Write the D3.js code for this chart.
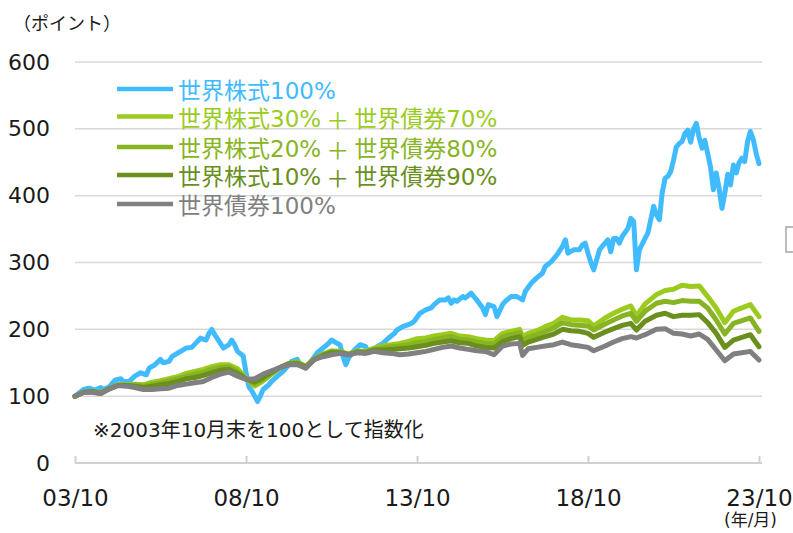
<!DOCTYPE html>
<html lang="ja">
<head>
<meta charset="UTF-8">
<title>世界株式・世界債券の推移</title>
<script src="https://d3js.org/d3.v7.min.js"></script>
<style>
  body { margin: 0; background: #fff; }
  svg { display: block; font-family: "DejaVu Sans", "Noto Sans CJK JP", sans-serif; }
</style>
</head>
<body>
<svg id="chart" width="793" height="533"></svg>
<script>
// months since 2003/10 and index values (2003/10 = 100)
const stockMonth = [0,3,5,7,9,10,12,14,16,17,19,21,23,25,26,28,30,31,33,34,37,39,41,43,44,46,47,48,49,51,52,54,55,56,57,59,60,61,62,63,64,65,66,68,69,71,73,74,76,78,79,81,82,84,85,87,89,90,92,93,94,95,96,98,100,102,103,105,106,108,110,112,113,115,117,118,119,121,123,125,126,128,130,131,132,133,134,136,137,139,140,141,143,144,145,147,148,150,151,153,155,157,158,160,162,164,165,167,169,171,172,173,175,177,178,179,180,181,182,184,185,187,188,189,190,191,192,194,195,196,197,198,200,201,202,203,204,205,206,207,208,209,210,211,212,213,214,215,216,217,218,219,220,221,222,223,224,225,226,227,228,229,230,231,232,233,234,235,236,237,238,239,240];
const stock100 = [100,110,112,109,113,110,114,124,126,122,122,130,135,132,142,147,155,150,152,159,167,172,173,182,187,184,194,200,192,179,172,177,184,177,167,160,135,114,108,100,92,100,110,117,122,130,137,142,152,155,147,142,147,159,165,172,179,184,179,177,160,147,157,169,177,174,165,169,174,179,187,194,199,204,207,209,212,224,229,232,237,244,244,247,239,244,242,249,247,254,249,244,232,222,237,234,219,237,242,249,249,244,257,269,277,284,294,301,311,324,334,314,319,319,326,329,314,300,289,319,324,334,316,336,336,329,339,351,366,361,289,319,336,344,364,384,371,364,404,426,429,436,453,473,478,481,493,498,480,500,508,486,471,483,463,443,409,434,411,381,404,432,416,446,434,449,456,451,481,496,484,463,448];

const mixMonth = [0,3,6,9,12,15,18,21,24,27,30,33,36,39,42,45,48,51,54,57,60,63,66,69,72,75,78,81,84,87,90,93,96,99,102,105,108,111,114,117,120,123,126,129,132,135,138,141,144,147,150,153,156,157,159,162,165,168,171,174,177,180,182,186,189,192,195,197,200,204,207,210,213,216,219,222,225,228,231,234,237,240];
const mix30 = [100,106,107,105,111,117,117,118,117,121,123,126,129,134,137,140,144,147,147,141,127,115,123,133,143,149,151,145,156,163,168,167,163,168,167,172,175,177,179,182,186,187,190,192,194,190,189,186,184,183,194,197,200,189,194,198,204,209,218,214,214,213,205,217,224,230,235,220,238,252,258,260,266,264,265,249,232,210,227,232,237,219];
const mix20 = [100,106,107,105,111,117,116,117,115,118,120,123,126,130,133,136,140,143,144,137,126,118,125,134,143,149,150,144,156,162,167,166,163,167,166,170,172,174,175,177,180,182,185,187,189,185,184,181,179,178,189,192,195,183,188,192,197,202,210,207,206,205,199,208,214,220,224,212,227,239,242,240,243,242,242,232,214,193,209,213,217,197];
const mix10 = [100,106,107,104,111,116,116,115,113,115,117,119,122,126,128,131,135,139,140,134,126,121,128,136,143,148,149,143,155,161,165,165,162,166,165,169,169,170,171,172,174,176,179,181,183,180,179,175,173,172,182,186,189,176,181,185,189,193,200,198,197,194,188,196,201,206,209,199,212,221,224,219,221,221,222,210,194,173,184,188,192,174];
const bond100 = [100,106,106,104,111,116,115,113,110,110,111,112,116,118,120,122,128,133,136,130,125,126,133,138,143,147,147,142,155,159,162,164,162,165,164,167,165,164,162,163,165,167,170,173,175,172,170,168,167,162,175,178,179,161,171,173,175,177,181,177,175,173,168,175,181,186,189,187,192,200,201,194,193,190,193,185,169,153,163,165,167,154];

const yTicks = [0, 100, 200, 300, 400, 500, 600];
const xTickMonths = [0, 60, 120, 180, 240];

const seriesNames = ["世界株式100%", "世界株式30%＋世界債券70%", "世界株式20%＋世界債券80%", "世界株式10%＋世界債券90%", "世界債券100%"];
const seriesColors = ["#41bbff", "#9bcb1f", "#88b424", "#6a8f1c", "#808080"];

const start = new Date(2003, 9, 1);
const toDate = m => d3.timeMonth.offset(start, m);

const series = [
  { months: stockMonth, values: stock100 },
  { months: mixMonth, values: mix30 },
  { months: mixMonth, values: mix20 },
  { months: mixMonth, values: mix10 },
  { months: mixMonth, values: bond100 }
];

const margin = { top: 62, left: 75 };
const width = 684, height = 401;

const svg = d3.select("#chart");
const g = svg.append("g").attr("transform", `translate(${margin.left},${margin.top})`);

const x = d3.scaleTime().domain([toDate(0), toDate(240)]).range([0, width]);
const y = d3.scaleLinear().domain([0, 600]).range([height, 0]);

// grid lines
g.selectAll(".grid").data(yTicks).enter().append("line")
  .attr("x1", 0).attr("x2", width + 3)
  .attr("y1", d => y(d)).attr("y2", d => y(d))
  .attr("stroke", d => d === 0 ? "#d0d0d0" : "#d9d9d9")
  .attr("stroke-width", d => d === 0 ? 2 : 1.5);

// y axis labels
g.append("g")
  .call(d3.axisLeft(y).tickValues(yTicks).tickSize(0).tickPadding(25))
  .call(a => a.select(".domain").remove())
  .selectAll("text")
  .attr("font-size", 22).attr("fill", "#1a1a1a")
  .attr("font-family", "DejaVu Sans, sans-serif");

// x axis (ticks pointing up)
g.append("g")
  .attr("transform", `translate(0,${height})`)
  .call(d3.axisBottom(x).tickValues(xTickMonths.map(toDate))
    .tickFormat(d3.timeFormat("%y/%m")).tickSizeInner(-7).tickSizeOuter(0).tickPadding(27))
  .call(a => a.select(".domain").remove())
  .call(a => a.selectAll("line").attr("stroke", "#d0d0d0").attr("stroke-width", 2))
  .selectAll("text")
  .attr("font-size", 23).attr("fill", "#1a1a1a")
  .attr("font-family", "DejaVu Sans, sans-serif");

// lines
const line = d3.line()
  .x(d => x(toDate(d[0])))
  .y(d => y(d[1]));

series.forEach((s, i) => {
  g.append("path")
    .datum(s.months.map((m, j) => [m, s.values[j]]))
    .attr("fill", "none")
    .attr("stroke", seriesColors[i])
    .attr("stroke-width", 5)
    .attr("stroke-linejoin", "round")
    .attr("stroke-linecap", "round")
    .attr("d", line);
});

// legend
const legendY = [89, 116.5, 147, 175, 204];
seriesNames.forEach((name, i) => {
  svg.append("line")
    .attr("x1", 117).attr("x2", 173)
    .attr("y1", legendY[i]).attr("y2", legendY[i])
    .attr("stroke", seriesColors[i]).attr("stroke-width", 4.5);
  const t = svg.append("text")
    .attr("x", 178).attr("y", legendY[i] + 2)
    .attr("dominant-baseline", "central")
    .attr("font-size", 23)
    .attr("fill", seriesColors[i]);
  // full-width plus with a little room on both sides
  name.split(/(＋)/).forEach((part, k) => {
    const sp = t.append("tspan").text(part);
    if (k > 0) sp.attr("dx", 5);
    if (part === "＋") sp.attr("font-family", "Noto Sans CJK JP, sans-serif");
  });
});

// unit labels and note
svg.append("text").attr("x", 13).attr("y", 22).attr("dominant-baseline", "central")
  .attr("font-size", 18).attr("fill", "#1a1a1a")
  .attr("font-family", "Noto Sans CJK JP, sans-serif")
  .text("（ポイント）");

svg.append("text").attr("x", 724).attr("y", 520).attr("dominant-baseline", "central")
  .attr("font-size", 17).attr("fill", "#1a1a1a")
  .text("(年/月)");

svg.append("text").attr("x", 93).attr("y", 430).attr("dominant-baseline", "central")
  .attr("font-size", 20).attr("fill", "#1a1a1a")
  .text("※2003年10月末を100として指数化");

// partial box at the right edge
svg.append("rect").attr("x", 786).attr("y", 227).attr("width", 20).attr("height", 25)
  .attr("fill", "#fff").attr("stroke", "#a6a6a6").attr("stroke-width", 1.5);
</script>
</body>
</html>
